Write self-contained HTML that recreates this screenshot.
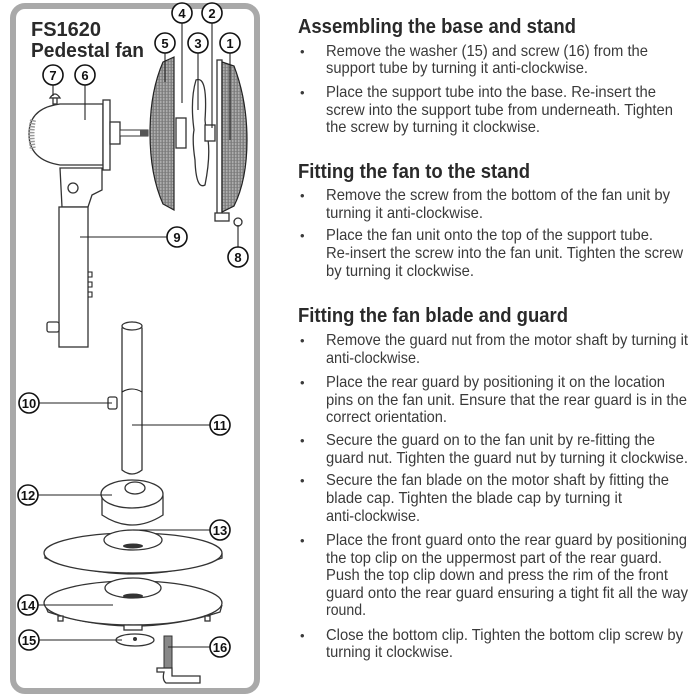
<!DOCTYPE html>
<html><head><meta charset="utf-8"><style>
html,body{margin:0;padding:0;background:#fff;}
svg{display:block;}
.t{font-family:"Liberation Sans",Arial,sans-serif;font-size:16px;fill:#3a3a3a;}
.h{font-family:"Liberation Sans",Arial,sans-serif;font-size:20px;font-weight:bold;fill:#2a2a2a;}
.n{font-family:"Liberation Sans",Arial,sans-serif;font-size:13px;font-weight:bold;fill:#111;text-anchor:middle;}
.c{fill:#fff;stroke:#111;stroke-width:1.6;}
.l{stroke:#222;stroke-width:1.1;fill:none;}
.p{fill:#fff;stroke:#333;stroke-width:1.3;}
</style></head><body>
<svg width="700" height="700" viewBox="0 0 700 700" xmlns="http://www.w3.org/2000/svg">
<defs>
<linearGradient id="g5" x1="0" x2="1" y1="0" y2="0"><stop offset="0" stop-color="#666"/><stop offset="0.45" stop-color="#b5b5b5"/><stop offset="1" stop-color="#8a8a8a"/></linearGradient>
<pattern id="hat" width="3" height="3" patternUnits="userSpaceOnUse"><rect width="3" height="3" fill="url(#g5)"/><line x1="0" y1="1.5" x2="3" y2="1.5" stroke="#777" stroke-width="0.6"/></pattern>
</defs>
<rect x="13" y="6" width="244" height="685" rx="12" fill="#fff" stroke="#a9a9a9" stroke-width="6"/>
<text x="31" y="36" class="h" font-size="20">FS1620</text>
<text x="31" y="57" class="h" textLength="113" lengthAdjust="spacingAndGlyphs">Pedestal fan</text>

<path class="p" d="M60,104 L103,104 L103,165 L60,165 Q29,160 29,134 Q29,108 60,104 Z"/>
<path d="M33,120 Q30,134 33,150" stroke="#999" stroke-width="6" fill="none" stroke-dasharray="1.5 1.5"/>
<rect class="p" x="103" y="100" width="7" height="70"/>
<rect class="p" x="110" y="122" width="10" height="22"/>
<rect x="120" y="130" width="28" height="6" fill="#fff" stroke="#333"/>
<rect x="140" y="130" width="8" height="6" fill="#555"/>
<path class="p" d="M50,98 Q55,90 60,98 Z"/><rect class="p" x="53" y="98" width="4" height="6"/>
<path class="p" d="M60,168 L102,168 L102,190 L92,195 L88,207 L62,207 Z"/>
<circle class="p" cx="73" cy="188" r="5"/>
<rect class="p" x="59" y="207" width="29" height="140"/>
<path class="l" d="M88,272 h4 v5 h-4 M88,282 h4 v5 h-4 M88,292 h4 v5 h-4"/>
<rect class="p" x="47" y="322" width="12" height="10" rx="2"/>

<path d="M163,62 L174,57 L174,210 L163,204 Q150,175 150,133 Q150,92 163,62 Z" fill="url(#hat)" stroke="#222" stroke-width="1.2"/>
<rect class="p" x="176" y="118" width="10" height="30"/>
<path class="p" d="M196,80 Q208,75 205,120 L206,130 Q212,150 205,185 Q196,190 195,160 Q192,140 194,130 Q190,100 196,80 Z"/>
<rect class="p" x="205" y="125" width="10" height="16"/>
<rect class="p" x="217" y="60" width="5" height="155"/>
<path d="M222,62 L234,66 Q247,100 247,140 Q247,180 234,206 L222,212 Z" fill="url(#hat)" stroke="#222" stroke-width="1.2"/>
<rect class="p" x="215" y="213" width="14" height="8"/>
<circle class="p" cx="238" cy="222" r="4"/>

<path class="p" d="M122,328 Q132,316 142,328 L142,470 Q132,478 122,470 Z"/>
<ellipse class="p" cx="132" cy="326" rx="10" ry="4"/>
<path class="l" d="M122,392 Q132,386 142,392"/>
<rect class="p" x="108" y="397" width="9" height="12" rx="2"/>
<path class="p" d="M102,496 L102,515 Q132,535 163,515 L163,496 Z"/>
<ellipse class="p" cx="132" cy="494" rx="31" ry="14"/>
<ellipse class="p" cx="135" cy="488" rx="10" ry="6"/>
<path class="p" d="M45,553 L45,558 Q133,590 222,558 L222,553"/>
<ellipse class="p" cx="133" cy="553" rx="89" ry="20"/>
<ellipse class="p" cx="133" cy="540" rx="29" ry="10"/>
<ellipse cx="133" cy="546" rx="10" ry="2.5" fill="#333"/>
<path class="p" d="M45,605 L48,612 Q133,640 220,612 L222,605"/>
<ellipse class="p" cx="133" cy="603" rx="89" ry="22"/>
<ellipse class="p" cx="133" cy="588" rx="28" ry="10"/>
<ellipse cx="133" cy="596" rx="10" ry="2.5" fill="#333"/>
<rect class="p" x="58" y="616" width="5" height="5"/><rect class="p" x="205" y="616" width="5" height="5"/><rect class="p" x="124" y="625" width="18" height="5"/>
<ellipse class="p" cx="135" cy="640" rx="19" ry="6"/><circle cx="135" cy="639" r="2" fill="#333"/>
<rect x="164" y="636" width="8" height="36" fill="#888" stroke="#333"/>
<path class="p" d="M157,668 L172,668 L172,676 L200,676 L200,683 L166,683 Q162,680 164,672 L157,672 Z"/>

<g class="l">
<line x1="182" y1="23" x2="182" y2="103"/>
<line x1="212" y1="23" x2="212" y2="128"/>
<line x1="165" y1="53" x2="165" y2="82"/>
<line x1="198" y1="53" x2="198" y2="110"/>
<line x1="230" y1="53" x2="230" y2="140"/>
<line x1="53" y1="85" x2="53" y2="96"/>
<line x1="85" y1="85" x2="85" y2="120"/>
<line x1="167" y1="237" x2="80" y2="237"/>
<line x1="238" y1="247" x2="238" y2="225"/>
<line x1="39" y1="403" x2="112" y2="403"/>
<line x1="210" y1="425" x2="132" y2="425"/>
<line x1="38" y1="495" x2="112" y2="495"/>
<line x1="210" y1="530" x2="133" y2="530"/>
<line x1="38" y1="605" x2="113" y2="605"/>
<line x1="39" y1="640" x2="122" y2="640"/>
<line x1="210" y1="647" x2="168" y2="647"/>
</g>
<g>
<circle class="c" cx="182" cy="13" r="10"/><text class="n" x="182" y="18">4</text>
<circle class="c" cx="212" cy="13" r="10"/><text class="n" x="212" y="18">2</text>
<circle class="c" cx="165" cy="43" r="10"/><text class="n" x="165" y="48">5</text>
<circle class="c" cx="198" cy="43" r="10"/><text class="n" x="198" y="48">3</text>
<circle class="c" cx="230" cy="43" r="10"/><text class="n" x="230" y="48">1</text>
<circle class="c" cx="53" cy="75" r="10"/><text class="n" x="53" y="80">7</text>
<circle class="c" cx="85" cy="75" r="10"/><text class="n" x="85" y="80">6</text>
<circle class="c" cx="177" cy="237" r="10"/><text class="n" x="177" y="242">9</text>
<circle class="c" cx="238" cy="257" r="10"/><text class="n" x="238" y="262">8</text>
<circle class="c" cx="29" cy="403" r="10"/><text class="n" x="29" y="408" font-size="12">10</text>
<circle class="c" cx="220" cy="425" r="10"/><text class="n" x="220" y="430" font-size="12">11</text>
<circle class="c" cx="28" cy="495" r="10"/><text class="n" x="28" y="500" font-size="12">12</text>
<circle class="c" cx="220" cy="530" r="10"/><text class="n" x="220" y="535" font-size="12">13</text>
<circle class="c" cx="28" cy="605" r="10"/><text class="n" x="28" y="610" font-size="12">14</text>
<circle class="c" cx="29" cy="640" r="10"/><text class="n" x="29" y="645" font-size="12">15</text>
<circle class="c" cx="220" cy="647" r="10"/><text class="n" x="220" y="652" font-size="12">16</text>
</g>

<g>
<text class="h" x="298" y="33" textLength="278" lengthAdjust="spacingAndGlyphs">Assembling the base and stand</text>
<text class="h" x="298" y="178" textLength="232" lengthAdjust="spacingAndGlyphs">Fitting the fan to the stand</text>
<text class="h" x="298" y="322" textLength="270" lengthAdjust="spacingAndGlyphs">Fitting the fan blade and guard</text>
</g>
<g class="t">
<text x="300" y="56" font-size="13">•</text>
<text x="326" y="56" textLength="322" lengthAdjust="spacingAndGlyphs">Remove the washer (15) and screw (16) from the</text>
<text x="326" y="73" textLength="262" lengthAdjust="spacingAndGlyphs">support tube by turning it anti-clockwise.</text>
<text x="300" y="97" font-size="13">•</text>
<text x="326" y="97" textLength="330" lengthAdjust="spacingAndGlyphs">Place the support tube into the base. Re-insert the</text>
<text x="326" y="115" textLength="347" lengthAdjust="spacingAndGlyphs">screw into the support tube from underneath. Tighten</text>
<text x="326" y="132" textLength="214" lengthAdjust="spacingAndGlyphs">the screw by turning it clockwise.</text>

<text x="300" y="200" font-size="13">•</text>
<text x="326" y="200" textLength="344" lengthAdjust="spacingAndGlyphs">Remove the screw from the bottom of the fan unit by</text>
<text x="326" y="218" textLength="157" lengthAdjust="spacingAndGlyphs">turning it anti-clockwise.</text>
<text x="300" y="240" font-size="13">•</text>
<text x="326" y="240" textLength="327" lengthAdjust="spacingAndGlyphs">Place the fan unit onto the top of the support tube.</text>
<text x="326" y="258" textLength="357" lengthAdjust="spacingAndGlyphs">Re-insert the screw into the fan unit. Tighten the screw</text>
<text x="326" y="276" textLength="148" lengthAdjust="spacingAndGlyphs">by turning it clockwise.</text>

<text x="300" y="345" font-size="13">•</text>
<text x="326" y="345" textLength="362" lengthAdjust="spacingAndGlyphs">Remove the guard nut from the motor shaft by turning it</text>
<text x="326" y="363" textLength="94" lengthAdjust="spacingAndGlyphs">anti-clockwise.</text>
<text x="300" y="387" font-size="13">•</text>
<text x="326" y="387" textLength="339" lengthAdjust="spacingAndGlyphs">Place the rear guard by positioning it on the location</text>
<text x="326" y="405" textLength="361" lengthAdjust="spacingAndGlyphs">pins on the fan unit. Ensure that the rear guard is in the</text>
<text x="326" y="422" textLength="121" lengthAdjust="spacingAndGlyphs">correct orientation.</text>
<text x="300" y="445" font-size="13">•</text>
<text x="326" y="445" textLength="329" lengthAdjust="spacingAndGlyphs">Secure the guard on to the fan unit by re-fitting the</text>
<text x="326" y="463" textLength="362" lengthAdjust="spacingAndGlyphs">guard nut. Tighten the guard nut by turning it clockwise.</text>
<text x="300" y="485" font-size="13">•</text>
<text x="326" y="485" textLength="343" lengthAdjust="spacingAndGlyphs">Secure the fan blade on the motor shaft by fitting the</text>
<text x="326" y="503" textLength="296" lengthAdjust="spacingAndGlyphs">blade cap. Tighten the blade cap by turning it</text>
<text x="326" y="521" textLength="94" lengthAdjust="spacingAndGlyphs">anti-clockwise.</text>
<text x="300" y="545" font-size="13">•</text>
<text x="326" y="545" textLength="361" lengthAdjust="spacingAndGlyphs">Place the front guard onto the rear guard by positioning</text>
<text x="326" y="563" textLength="336" lengthAdjust="spacingAndGlyphs">the top clip on the uppermost part of the rear guard.</text>
<text x="326" y="580" textLength="342" lengthAdjust="spacingAndGlyphs">Push the top clip down and press the rim of the front</text>
<text x="326" y="598" textLength="362" lengthAdjust="spacingAndGlyphs">guard onto the rear guard ensuring a tight fit all the way</text>
<text x="326" y="615" textLength="40" lengthAdjust="spacingAndGlyphs">round.</text>
<text x="300" y="640" font-size="13">•</text>
<text x="326" y="640" textLength="357" lengthAdjust="spacingAndGlyphs">Close the bottom clip. Tighten the bottom clip screw by</text>
<text x="326" y="657" textLength="127" lengthAdjust="spacingAndGlyphs">turning it clockwise.</text>
</g>
</svg>
</body></html>
